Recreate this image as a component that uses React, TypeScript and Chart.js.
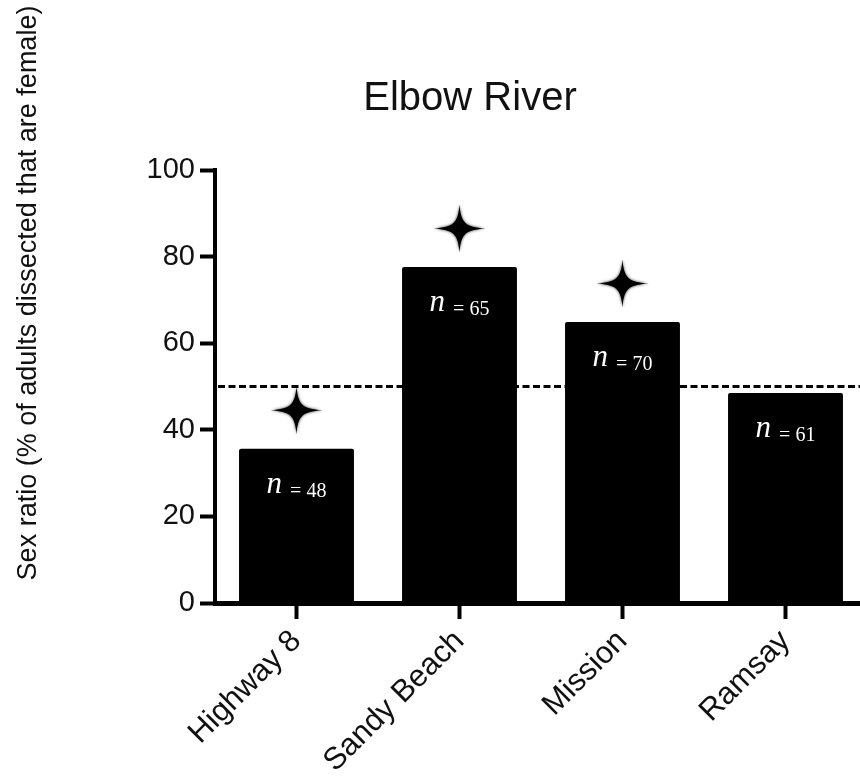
import React, { useEffect, useRef } from 'react';
import { Chart, registerables } from 'chart.js';

Chart.register(...registerables);

// ---- data ----
const categories = ['Highway 8', 'Sandy Beach', 'Mission', 'Ramsay'];
const sexRatioPercent = [35.6, 77.6, 64.9, 48.5];
const sampleSizes = [48, 65, 70, 61];
const significantDeviation = [true, true, true, false];
const parityLine = 50;
const yMin = 0;
const yMax = 100;
const yStep = 20;
const chartTitle = 'Elbow River';
const yAxisTitle = 'Sex ratio (% of adults dissected that are female)';

const SANS = '"Liberation Sans", Arial, Helvetica, sans-serif';
const SERIF = '"Liberation Serif", "Times New Roman", serif';

function drawStar(ctx: CanvasRenderingContext2D, cx: number, cy: number, rx: number, ry: number) {
  const a = 0.06, b = 0.22;
  ctx.beginPath();
  ctx.moveTo(cx, cy - ry);
  ctx.bezierCurveTo(cx + a * rx, cy - b * ry, cx + b * rx, cy - a * ry, cx + rx, cy);
  ctx.bezierCurveTo(cx + b * rx, cy + a * ry, cx + a * rx, cy + b * ry, cx, cy + ry);
  ctx.bezierCurveTo(cx - a * rx, cy + b * ry, cx - b * rx, cy + a * ry, cx - rx, cy);
  ctx.bezierCurveTo(cx - b * rx, cy - a * ry, cx - a * rx, cy - b * ry, cx, cy - ry);
  ctx.closePath();
  ctx.fill();
}

const overlayPlugin = {
  id: 'overlay',
  beforeDatasetsDraw(chart: any) {
    const { ctx, chartArea, scales } = chart;
    const yy = scales.y.getPixelForValue(parityLine);
    ctx.save();
    ctx.strokeStyle = '#000';
    ctx.lineWidth = 3;
    ctx.setLineDash([7, 3.5]);
    ctx.beginPath();
    ctx.moveTo(chartArea.left + 3, yy);
    ctx.lineTo(chartArea.right, yy);
    ctx.stroke();
    ctx.restore();
  },
  afterDatasetsDraw(chart: any) {
    const { ctx } = chart;
    const meta = chart.getDatasetMeta(0);
    meta.data.forEach((bar: any, i: number) => {
      const x = bar.x;
      const top = bar.y;
      // n label
      ctx.save();
      ctx.fillStyle = '#fff';
      ctx.textAlign = 'left';
      ctx.textBaseline = 'alphabetic';
      ctx.font = `italic 31px ${SERIF}`;
      const wn = ctx.measureText('n').width;
      const rest = `= ${sampleSizes[i]}`;
      ctx.font = `20px ${SERIF}`;
      const wr = ctx.measureText(rest).width;
      const gap = 8;
      const start = x - (wn + gap + wr) / 2;
      const base = top + 44;
      ctx.font = `italic 31px ${SERIF}`;
      ctx.fillText('n', start, base);
      ctx.font = `20px ${SERIF}`;
      ctx.fillText(rest, start + wn + gap, base + 4);
      ctx.restore();
      // significance star
      if (significantDeviation[i]) {
        ctx.save();
        ctx.fillStyle = '#000';
        ctx.shadowColor = 'rgba(0,0,0,0.85)';
        ctx.shadowBlur = 3;
        drawStar(ctx, x, top - 38.5, 26, 24);
        ctx.restore();
      }
    });
  },
  afterDraw(chart: any) {
    const { ctx } = chart;
    ctx.save();
    ctx.fillStyle = '#111';
    ctx.textAlign = 'center';
    ctx.textBaseline = 'alphabetic';
    ctx.font = `40px ${SANS}`;
    ctx.fillText(chartTitle, 470, 110);
    ctx.translate(36, 293);
    ctx.rotate(-Math.PI / 2);
    ctx.font = `27px ${SANS}`;
    ctx.fillText(yAxisTitle, 0, 0);
    ctx.restore();
  },
};

export default function App() {
  const canvasRef = useRef<HTMLCanvasElement | null>(null);

  useEffect(() => {
    document.body.style.margin = '0';
    const canvas = canvasRef.current;
    if (!canvas) return;
    const chart = new Chart(canvas, {
      type: 'bar',
      data: {
        labels: categories,
        datasets: [
          {
            data: sexRatioPercent,
            backgroundColor: '#000',
            borderRadius: 2,
            borderSkipped: 'bottom',
            barPercentage: 0.705,
            categoryPercentage: 1,
          },
        ],
      },
      options: {
        responsive: false,
        animation: false,
        devicePixelRatio: 1,
        layout: { padding: { top: 170, right: 8, bottom: 0, left: 0 } },
        plugins: {
          legend: { display: false },
          tooltip: { enabled: false },
          title: { display: false },
        },
        scales: {
          x: {
            offset: true,
            grid: {
              display: true,
              drawOnChartArea: false,
              drawTicks: true,
              tickLength: 16,
              tickWidth: 4,
              tickColor: '#000',
              offset: false,
            },
            border: { display: true, color: '#000', width: 5 },
            ticks: {
              color: '#111',
              font: { family: SANS, size: 31 },
              minRotation: 45,
              maxRotation: 45,
              padding: 4,
              autoSkip: false,
            },
            afterFit(scale: any) {
              scale.height = 180;
            },
          },
          y: {
            min: yMin,
            max: yMax,
            ticks: {
              stepSize: yStep,
              color: '#111',
              font: { family: SANS, size: 29 },
              padding: 5,
            },
            grid: {
              display: true,
              drawOnChartArea: false,
              drawTicks: true,
              tickLength: 15,
              tickWidth: 4,
              tickColor: '#000',
            },
            border: { display: true, color: '#000', width: 4 },
            afterFit(scale: any) {
              scale.width = 215;
            },
          },
        },
      },
      plugins: [overlayPlugin],
    });
    return () => chart.destroy();
  }, []);

  return (
    <div style={{ width: 860, height: 783, overflow: 'hidden' }}>
      <canvas ref={canvasRef} width={875} height={783} style={{ display: 'block' }} />
    </div>
  );
}
